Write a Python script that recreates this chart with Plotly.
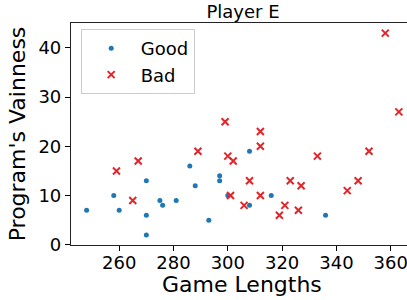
import plotly.graph_objects as go

good_x = [248, 258, 260, 270, 270, 270, 275, 276, 281, 286, 288, 293, 297, 297, 300, 308, 308, 316, 336]
good_y = [7, 10, 7, 13, 6, 2, 9, 8, 9, 16, 12, 5, 14, 13, 10, 19, 8, 10, 6]

bad_x = [259, 265, 267, 289, 299, 300, 301, 302, 306, 308, 312, 312, 312, 319, 321, 323, 326, 327, 333, 344, 348, 352, 358, 363]
bad_y = [15, 9, 17, 19, 25, 18, 10, 17, 8, 13, 23, 20, 10, 6, 8, 13, 7, 12, 18, 11, 13, 19, 43, 27]

x_ticks = [260, 280, 300, 320, 340, 360]
y_ticks = [0, 10, 20, 30, 40]

FONT = "DejaVu Sans"
L, T, PW, PH = 71, 23, 336, 222


def px(xp):
    return (xp - L) / PW


def py(yp):
    return (T + PH - yp) / PH


fig = go.Figure()
fig.add_trace(go.Scatter(x=good_x, y=good_y, mode="markers", name="Good",
                         marker=dict(color="#1f77b4", size=5, symbol="circle")))
fig.add_trace(go.Scatter(x=bad_x, y=bad_y, mode="markers", name="Bad",
                         marker=dict(color="#e0262b", size=7, symbol="x-thin",
                                     line=dict(color="#e0262b", width=2))))

fig.update_layout(
    width=407, height=300,
    margin=dict(l=L, r=407 - L - PW, t=T, b=300 - T - PH, autoexpand=False),
    plot_bgcolor="white", paper_bgcolor="white",
    font=dict(family=FONT, color="black"),
    title=dict(text="Player E", x=243/407, xref="container", xanchor="center",
               y=1 - 11.5/300, yref="container", yanchor="middle",
               font=dict(size=18, family=FONT)),
    xaxis=dict(range=[242.25, 366.0], tickvals=x_ticks, ticks="outside", ticklen=5,
               tickcolor="black", showline=True, linecolor="#222", linewidth=1.2,
               mirror=True, showgrid=False, zeroline=False, ticklabeloverflow="allow",
               ticklabelstandoff=-4,
               tickfont=dict(size=18, family=FONT)),
    yaxis=dict(range=[-0.05, 45.05], tickvals=y_ticks, ticks="outside", ticklen=5,
               tickcolor="black", showline=True, linecolor="#222", linewidth=1.2,
               mirror=False, showgrid=False, zeroline=False,
               tickfont=dict(size=18, family=FONT),
               title=dict(text="Program's Vainness", font=dict(size=22, family=FONT),
                          standoff=6)),
    legend=dict(x=px(80.7), y=py(29.0), xanchor="left", yanchor="top",
                bgcolor="rgba(255,255,255,0.8)", bordercolor="#cccccc", borderwidth=1,
                font=dict(size=18, family=FONT), itemwidth=49),
    showlegend=True,
)

fig.add_annotation(text="Game Lengths", xref="paper", yref="paper",
                   x=px(242.0), y=py(284), xanchor="center", yanchor="middle",
                   showarrow=False, font=dict(size=22, family=FONT))

fig.write_html("out.html", config={"displayModeBar": False},
               post_script="document.body.style.margin='0px';document.body.style.overflow='hidden';")
